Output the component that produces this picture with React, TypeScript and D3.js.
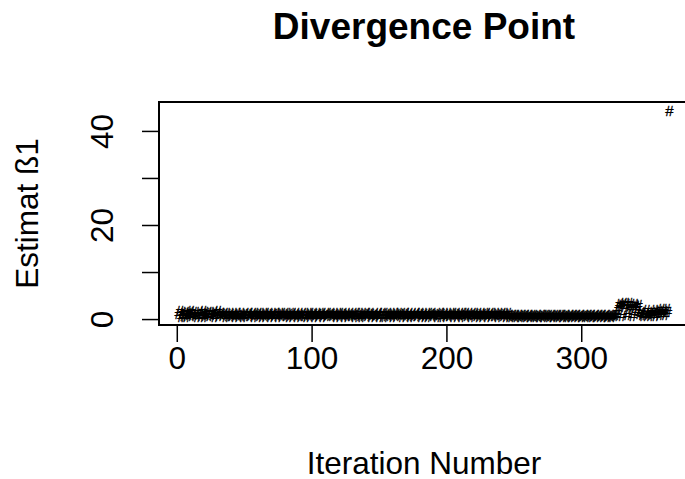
import React from "react";
import * as d3 from "d3";

// Estimate of beta1 at each iteration (iterations 1..365)
const earlyEstimates = [
  1.2, 1.8, 0.7, 1.5, 0.9, 1.7, 0.6, 1.4, 1.1, 1.8, 0.8, 1.6, 1.0, 1.3, 0.7, 1.7, 1.2, 0.9, 1.8, 0.6,
  1.5, 1.1, 1.6, 0.8, 1.4, 1.0, 1.7, 0.7, 1.3, 1.8, 0.9, 1.5, 1.2,
];
const middleEstimates = [
  1.0, 1.4, 0.7, 1.2, 0.9, 1.5, 0.8, 1.1, 1.3, 0.6, 1.4, 1.0, 0.8, 1.5, 1.1, 0.7, 1.3, 0.9, 1.2, 1.4,
  0.8, 1.1, 1.5, 0.6, 1.2, 1.0, 1.4, 0.9, 1.3, 0.7, 1.5, 1.1, 0.8, 1.2, 1.4, 0.6, 1.0, 1.3, 0.9, 1.5,
  1.2, 0.7, 1.4, 1.0, 0.8, 1.3, 1.5, 0.9, 1.1, 0.6, 1.4, 1.2, 0.8, 1.0, 1.5, 0.7, 1.3, 1.1, 0.9, 1.4,
  0.9, 1.3, 0.6, 1.5, 1.1, 0.8, 1.2, 1.4, 0.7, 1.0, 1.3, 0.9, 1.5, 1.2, 0.6, 1.1, 1.4, 0.8, 1.0, 1.3,
  1.4, 0.8, 1.1, 1.3, 0.7, 1.5, 1.0, 0.9, 1.2, 1.4, 0.6, 1.3, 1.1, 0.8, 1.5, 0.9, 1.2, 1.0, 0.7, 1.4,
  1.1, 1.5, 0.9, 0.7, 1.3, 1.0, 1.4, 0.8, 1.2, 1.5, 0.6, 1.1, 1.3, 0.9, 1.0, 1.4, 0.7, 1.2, 1.5, 0.8,
  0.7, 1.2, 1.4, 1.0, 0.9, 1.3, 0.6, 1.5, 1.1, 0.8, 1.4, 1.2, 1.0, 0.7, 1.3, 1.5, 0.9, 1.1, 1.4, 0.6,
  1.3, 0.9, 1.0, 1.5, 0.8, 1.2, 1.4, 0.7, 1.1, 1.3, 0.9, 1.5, 0.6, 1.0, 1.2, 1.4, 0.8, 1.3, 1.1, 0.7,
  1.0, 1.4, 1.2, 0.6, 1.5, 0.9, 1.1, 1.3, 0.8, 1.4, 1.0, 0.7, 1.2, 1.5, 0.9, 1.3, 1.1, 0.6, 1.4, 1.0,
  1.5, 0.8, 1.3, 1.1, 0.7, 1.4, 1.0, 1.2, 0.9, 1.5, 0.6, 1.3, 1.1, 0.8, 1.4, 1.2, 0.7, 1.0, 1.5, 0.9,
  1.2, 0.8, 1.4, 1.0, 0.6, 1.3, 1.1, 1.5, 0.9, 1.2, 0.7, 1.4, 1.0,
];
const lateEstimates = [
  0.9, 0.6, 1.1, 0.8, 1.0, 0.7, 1.1, 0.9, 0.6, 1.0, 0.8, 1.1, 0.7, 0.9, 1.0, 0.6, 1.1, 0.8, 0.9, 0.7,
  1.0, 0.8, 0.6, 1.1, 0.9, 0.7, 1.0, 1.1, 0.8, 0.6, 0.9, 1.0, 0.7, 1.1, 0.8, 0.9, 0.6, 1.0, 1.1, 0.7,
  0.8, 1.1, 0.9, 0.6, 1.0, 0.7, 0.9, 1.1, 0.8, 1.0, 0.6, 0.9, 1.1, 0.7, 0.8, 1.0, 0.9, 0.6, 1.1, 0.8,
  1.0, 0.7, 0.9, 1.1, 0.6, 0.8, 1.0, 0.9, 1.1, 0.7, 0.8, 1.0, 0.6, 0.9, 1.1, 0.8, 0.7, 1.0, 0.9,
];
const unstableEstimates = [
  1.0, 2.2, 3.4, 3.1, 0.8, 3.5, 2.8, 3.3, 1.0, 3.6, 3.0, 2.6, 0.9, 3.4, 2.9, 1.8, 3.2, 1.2,
];
const finalEstimates = [
  1.6, 1.1, 0.9, 1.4, 2.0, 1.0, 1.3, 0.8, 1.7, 1.2, 2.1, 0.9, 1.5, 1.8, 1.1, 2.3, 1.4, 1.9, 1.0, 2.2,
  1.6,
];
const divergedEstimate = [44.5];

const estimates = [
  ...earlyEstimates,
  ...middleEstimates,
  ...lateEstimates,
  ...unstableEstimates,
  ...finalEstimates,
  ...divergedEstimate,
];

const xTicks = [0, 100, 200, 300];
const yTicks = [0, 10, 20, 30, 40];
const yTickLabels = [0, 20, 40];

const title = "Divergence Point";
const xTitle = "Iteration Number";
const yTitle = "Estimat ß1";
const pointSymbol = "#";

const WIDTH = 685;
const HEIGHT = 479;
const plot = { left: 159, right: 689, top: 102, bottom: 325 };
const FONT = "'Liberation Sans', Arial, Helvetica, sans-serif";

// R-style 4% padding of the data range
function padded(lo: number, hi: number): [number, number] {
  const d = (hi - lo) * 0.04;
  return [lo - d, hi + d];
}

export default function App() {
  const points = estimates.map((v, i) => ({ iter: i + 1, value: v }));

  const x = d3
    .scaleLinear()
    .domain(padded(1, points.length))
    .range([plot.left, plot.right]);
  const [yMin, yMax] = d3.extent(estimates) as [number, number];
  const y = d3.scaleLinear().domain(padded(yMin, yMax)).range([plot.bottom, plot.top]);

  const tickLen = 17;
  const axisFont = 31.5;

  return (
    <svg
      width={WIDTH}
      height={HEIGHT}
      style={{ position: "absolute", left: 0, top: 0, background: "#fff" }}
      fontFamily={FONT}
    >
      <rect x={0} y={0} width={WIDTH} height={HEIGHT} fill="#fff" />
      {/* title */}
      <text
        x={(plot.left + plot.right) / 2}
        y={39}
        textAnchor="middle"
        fontSize={37}
        fontWeight="bold"
        fill="#000"
      >
        {title}
      </text>

      {/* points drawn with the '#' plotting character */}
      <g fontSize={15} textAnchor="middle" fill="#000" stroke="#000" strokeWidth={0.3}>
        {points.map((p) => (
          <text key={p.iter} x={x(p.iter)} y={y(p.value)} dy="0.35em">
            {pointSymbol}
          </text>
        ))}
      </g>

      {/* plot box */}
      <rect
        x={plot.left}
        y={plot.top}
        width={plot.right - plot.left}
        height={plot.bottom - plot.top}
        fill="none"
        stroke="#000"
        strokeWidth={2}
      />

      {/* x axis */}
      <g stroke="#000" strokeWidth={1.5}>
        <line x1={x(xTicks[0])} x2={x(xTicks[xTicks.length - 1])} y1={plot.bottom} y2={plot.bottom} />
        {xTicks.map((t) => (
          <line key={t} x1={x(t)} x2={x(t)} y1={plot.bottom} y2={plot.bottom + tickLen} />
        ))}
      </g>
      <g fontSize={axisFont} textAnchor="middle" fill="#000">
        {xTicks.map((t) => (
          <text key={t} x={x(t)} y={369}>
            {t}
          </text>
        ))}
      </g>

      {/* y axis */}
      <g stroke="#000" strokeWidth={1.5}>
        <line x1={plot.left} x2={plot.left} y1={y(yTicks[0])} y2={y(yTicks[yTicks.length - 1])} />
        {yTicks.map((t) => (
          <line key={t} x1={plot.left - tickLen} x2={plot.left} y1={y(t)} y2={y(t)} />
        ))}
      </g>
      <g fontSize={axisFont} textAnchor="middle" fill="#000">
        {yTickLabels.map((t) => (
          <text key={t} transform={`translate(113,${y(t)}) rotate(-90)`}>
            {t}
          </text>
        ))}
      </g>

      {/* axis titles */}
      <text
        x={(plot.left + plot.right) / 2}
        y={474}
        textAnchor="middle"
        fontSize={axisFont}
        fill="#000"
      >
        {xTitle}
      </text>
      <text
        transform={`translate(38,${(plot.top + plot.bottom) / 2}) rotate(-90)`}
        textAnchor="middle"
        fontSize={axisFont}
        fill="#000"
      >
        {yTitle}
      </text>
    </svg>
  );
}
